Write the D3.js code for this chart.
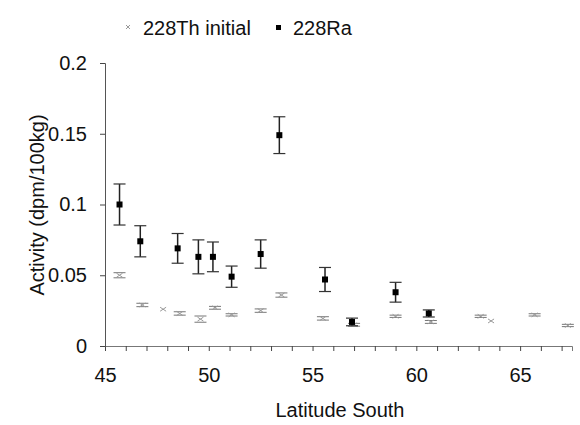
<!DOCTYPE html>
<html>
<head>
<meta charset="utf-8">
<script src="https://cdn.jsdelivr.net/npm/d3@7"></script>
<style>
  body { margin: 0; background: #fff; }
  svg text { font-family: "Liberation Sans", Arial, sans-serif; fill: #111; }
</style>
</head>
<body>
<svg width="580" height="425"></svg>
<script>
// 228Ra (black squares)
var raLat = [45.7, 46.7, 48.5, 49.5, 50.2, 51.1, 52.5, 53.4, 55.6, 56.9, 59.0, 60.6];
var raVal = [0.100, 0.074, 0.069, 0.063, 0.063, 0.049, 0.065, 0.149, 0.047, 0.017, 0.038, 0.023];
var raErr = [0.0145, 0.011, 0.0105, 0.012, 0.0105, 0.0075, 0.010, 0.013, 0.0085, 0.0027, 0.007, 0.0025];

// 228Th initial (small grey crosses)
var thLat = [45.7, 46.8, 47.8, 48.6, 49.6, 50.3, 51.1, 52.5, 53.5, 55.5, 57.0, 59.0, 60.7, 63.1, 63.6, 65.7, 67.3];
var thVal = [0.050, 0.029, 0.026, 0.023, 0.019, 0.027, 0.022, 0.025, 0.036, 0.0195, 0.015, 0.021, 0.017, 0.021, 0.0177, 0.022, 0.0145];
var thErr = [0.0018, 0.0012, 0, 0.0012, 0.0022, 0.001, 0.0008, 0.0012, 0.0015, 0.0012, 0.001, 0.0008, 0.001, 0.0008, 0, 0.0008, 0.0008];

var yTicks = [0, 0.05, 0.1, 0.15, 0.2];
var xTicks = [45, 50, 55, 60, 65];

var svg = d3.select("svg");

var x = d3.scaleLinear().domain([45, 67.5]).range([105, 572]);
var y = d3.scaleLinear().domain([0, 0.2]).range([346, 63]);

// x axis: minor ticks every degree
svg.append("g")
  .attr("transform", "translate(0,346)")
  .call(d3.axisBottom(x).tickValues(d3.range(45, 68, 1)).tickSize(5).tickFormat(""))
  .call(function (g) {
    g.select(".domain").attr("stroke", "#777");
    g.selectAll(".tick line").attr("stroke", "#444");
  });
svg.append("g")
  .attr("transform", "translate(0,346)")
  .call(d3.axisBottom(x).tickValues(xTicks).tickSize(0).tickPadding(22).tickFormat(d3.format("d")))
  .call(function (g) {
    g.select(".domain").remove();
    g.selectAll("text").attr("font-size", 20);
  });

// y axis
svg.append("g")
  .attr("transform", "translate(105,0)")
  .call(d3.axisLeft(y).tickValues(yTicks).tickSize(5).tickPadding(13).tickFormat(function (d) { return d3.format("")(d); }))
  .call(function (g) {
    g.select(".domain").attr("stroke", "#555");
    g.selectAll(".tick line").attr("stroke", "#444");
    g.selectAll("text").attr("font-size", 20);
  });

// axis titles
svg.append("text")
  .attr("x", 340).attr("y", 417)
  .attr("text-anchor", "middle").attr("font-size", 20)
  .text("Latitude South");
svg.append("text")
  .attr("transform", "translate(44,205) rotate(-90)")
  .attr("text-anchor", "middle").attr("font-size", 20)
  .text("Activity (dpm/100kg)");

// 228Th initial
var th = svg.append("g").selectAll("g")
  .data(thLat.map(function (d, i) { return { lat: d, v: thVal[i], e: thErr[i] }; }))
  .enter().append("g");
th.filter(function (d) { return d.e > 0; }).append("line")
  .attr("x1", function (d) { return x(d.lat) - 6; })
  .attr("x2", function (d) { return x(d.lat) + 6; })
  .attr("y1", function (d) { return y(d.v + d.e); })
  .attr("y2", function (d) { return y(d.v + d.e); })
  .attr("stroke", "#777").attr("stroke-width", 1);
th.filter(function (d) { return d.e > 0; }).append("line")
  .attr("x1", function (d) { return x(d.lat) - 6; })
  .attr("x2", function (d) { return x(d.lat) + 6; })
  .attr("y1", function (d) { return y(d.v - d.e); })
  .attr("y2", function (d) { return y(d.v - d.e); })
  .attr("stroke", "#777").attr("stroke-width", 1);
th.append("path")
  .attr("transform", function (d) { return "translate(" + x(d.lat) + "," + y(d.v) + ")"; })
  .attr("d", "M-3,-2L3,2M-3,2L3,-2")
  .attr("stroke", "#999").attr("stroke-width", 1).attr("fill", "none");

// 228Ra
var ra = svg.append("g").selectAll("g")
  .data(raLat.map(function (d, i) { return { lat: d, v: raVal[i], e: raErr[i] }; }))
  .enter().append("g");
ra.append("line")
  .attr("x1", function (d) { return x(d.lat); })
  .attr("x2", function (d) { return x(d.lat); })
  .attr("y1", function (d) { return y(d.v + d.e); })
  .attr("y2", function (d) { return y(d.v - d.e); })
  .attr("stroke", "#222").attr("stroke-width", 1.5);
[1, -1].forEach(function (s) {
  ra.append("line")
    .attr("x1", function (d) { return x(d.lat) - 6; })
    .attr("x2", function (d) { return x(d.lat) + 6; })
    .attr("y1", function (d) { return y(d.v + s * d.e); })
    .attr("y2", function (d) { return y(d.v + s * d.e); })
    .attr("stroke", "#333").attr("stroke-width", 1.2);
});
ra.append("rect")
  .attr("x", function (d) { return x(d.lat) - 3; })
  .attr("y", function (d) { return y(d.v) - 3; })
  .attr("width", 6).attr("height", 6)
  .attr("fill", "#000");

// legend
var lg = svg.append("g").attr("transform", "translate(0,28)");
lg.append("path").attr("d", "M126,-3L130,1M126,1L130,-3").attr("stroke", "#999").attr("fill", "none");
lg.append("text").attr("x", 143).attr("y", 7).attr("font-size", 20).text("228Th initial");
lg.append("rect").attr("x", 276).attr("y", -3).attr("width", 5).attr("height", 5).attr("fill", "#000");
lg.append("text").attr("x", 293).attr("y", 7).attr("font-size", 20).text("228Ra");
</script>
</body>
</html>
